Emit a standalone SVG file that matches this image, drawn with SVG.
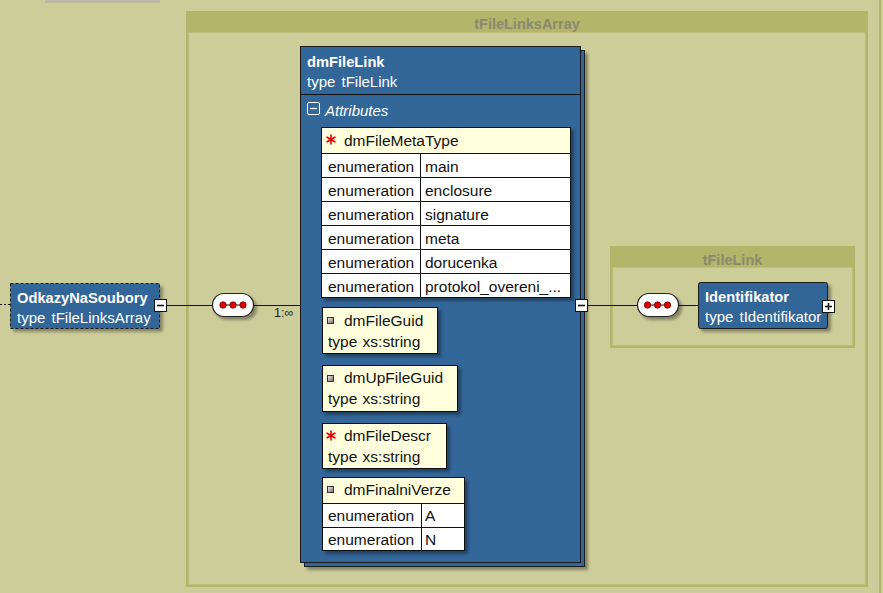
<svg xmlns="http://www.w3.org/2000/svg" width="883" height="593" viewBox="0 0 883 593">
<defs>
<filter id="sh" x="-10%" y="-10%" width="130%" height="130%">
<feDropShadow dx="3" dy="3" stdDeviation="1.5" flood-color="#000" flood-opacity="0.35"/>
</filter>
<linearGradient id="ico" x1="0" y1="0" x2="1" y2="1">
<stop offset="0" stop-color="#f4f4f4"/>
<stop offset="1" stop-color="#6a6a6a"/>
</linearGradient>
<style>
text{font-family:"Liberation Sans",Arial,sans-serif;}
.bg{fill:#CDCD9A;}
.cOuter{fill:#B4B46A;}
.cInner{fill:#CDCD9A;stroke:#BEBE7C;stroke-width:1;}
.cTitle{font-size:14.5px;font-weight:bold;fill:#8A8A6E;text-anchor:middle;}
.el{fill:#336699;stroke:#1a1a1a;stroke-width:1;}
.nm{font-size:14.7px;font-weight:bold;fill:#fff;}
.ty{font-size:15px;fill:#fff;word-spacing:2px;}
.at{fill:#FFFFDD;stroke:#111;stroke-width:1;}
.row{fill:#fff;stroke:#111;stroke-width:1;}
.tx{font-size:15.5px;fill:#111;word-spacing:1px;}
.ln{stroke:#111;stroke-width:1;fill:none;}
.btn{fill:#fff;stroke:#111;stroke-width:1;}
.bl{stroke:#111;stroke-width:1.6;}
.seq{fill:#fff;stroke:#222;stroke-width:1.2;}
.dot{fill:#e00000;stroke:#700;stroke-width:0.8;}
.req{stroke:#e00000;stroke-width:1.6;stroke-linecap:round;}
.opt{fill:url(#ico);stroke:#333;stroke-width:1;}
</style>
</defs>
<rect class="bg" x="0" y="0" width="883" height="593"/>
<rect x="45" y="0" width="115" height="3" fill="#B9B9A2"/>
<rect x="879" y="0" width="2" height="593" fill="#B4B46A"/>

<g id="tFileLinksArray">
<rect class="cOuter" x="186" y="11" width="682" height="576"/>
<rect class="cInner" x="188.5" y="32.5" width="677" height="552"/>
<text class="cTitle" x="527" y="29">tFileLinksArray</text>
</g>

<g id="tFileLink">
<rect class="cOuter" x="610" y="246" width="245" height="102"/>
<rect class="cInner" x="612.5" y="267.5" width="240" height="78"/>
<text class="cTitle" x="732.5" y="264.5">tFileLink</text>
</g>

<g id="connectors">
<line x1="0" y1="304.5" x2="10" y2="304.5" stroke="#111" stroke-width="1" stroke-dasharray="2,2"/>
<line class="ln" x1="167" y1="305.5" x2="212" y2="305.5"/>
<line class="ln" x1="254" y1="305.5" x2="301" y2="305.5"/>
<line class="ln" x1="587" y1="305.5" x2="637" y2="305.5"/>
<line class="ln" x1="678" y1="305.5" x2="698" y2="305.5"/>
</g>

<g id="OdkazyNaSoubory">
<rect class="el" x="10.5" y="283.5" width="149" height="45" stroke-dasharray="3,2" filter="url(#sh)"/>
<text class="nm" x="17" y="303">OdkazyNaSoubory</text>
<text class="ty" x="17" y="323">type tFileLinksArray</text>
<rect class="btn" x="154.5" y="299.5" width="12" height="12"/>
<line class="bl" x1="157" y1="305.5" x2="164" y2="305.5"/>
</g>

<g id="seq1">
<rect class="seq" x="212.5" y="293.5" width="41" height="23" rx="11.5" filter="url(#sh)"/>
<line class="ln" x1="223" y1="305" x2="243" y2="305"/>
<circle class="dot" cx="223" cy="305" r="3.2"/>
<circle class="dot" cx="233" cy="305" r="3.2"/>
<circle class="dot" cx="243" cy="305" r="3.2"/>
</g>
<text x="274" y="317" font-size="12.5" fill="#222" font-family="Liberation Sans, Arial, sans-serif">1:∞</text>

<g id="dmFileLink">
<rect class="el" x="304.5" y="50.5" width="280" height="516" filter="url(#sh)"/>
<rect class="el" x="300.5" y="46.5" width="280" height="516"/>
<text class="nm" x="307" y="67">dmFileLink</text>
<text class="ty" x="307" y="87">type tFileLink</text>
<line class="ln" x1="301" y1="94.5" x2="581" y2="94.5"/>
<rect x="307.5" y="102.5" width="12" height="12" rx="1.5" fill="none" stroke="#fff" stroke-width="1"/>
<line x1="310" y1="108.5" x2="317" y2="108.5" stroke="#fff" stroke-width="1.3"/>
<text x="325" y="115.5" font-size="15" font-style="italic" fill="#fff" font-family="Liberation Sans, Arial, sans-serif">Attributes</text>
<rect class="btn" x="575.5" y="299.5" width="12" height="12"/>
<line class="bl" x1="578" y1="305.5" x2="585" y2="305.5"/>
</g>

<g id="dmFileMetaType">
<rect class="row" x="321.5" y="127.5" width="249" height="170" filter="url(#sh)"/>
<rect class="at" x="321.5" y="127.5" width="249" height="26"/>
<line class="ln" x1="321" y1="177.5" x2="571" y2="177.5"/>
<line class="ln" x1="321" y1="201.5" x2="571" y2="201.5"/>
<line class="ln" x1="321" y1="225.5" x2="571" y2="225.5"/>
<line class="ln" x1="321" y1="249.5" x2="571" y2="249.5"/>
<line class="ln" x1="321" y1="273.5" x2="571" y2="273.5"/>
<line class="ln" x1="420.5" y1="153" x2="420.5" y2="297"/>
<g class="req"><line x1="331" y1="135" x2="331" y2="144"/><line x1="327.1" y1="137.2" x2="334.9" y2="141.8"/><line x1="327.1" y1="141.8" x2="334.9" y2="137.2"/></g>
<text class="tx" x="344" y="146">dmFileMetaType</text>
<text class="tx" x="328" y="172">enumeration</text><text class="tx" x="425" y="172">main</text>
<text class="tx" x="328" y="196">enumeration</text><text class="tx" x="425" y="196">enclosure</text>
<text class="tx" x="328" y="220">enumeration</text><text class="tx" x="425" y="220">signature</text>
<text class="tx" x="328" y="244">enumeration</text><text class="tx" x="425" y="244">meta</text>
<text class="tx" x="328" y="268">enumeration</text><text class="tx" x="425" y="268">dorucenka</text>
<text class="tx" x="328" y="292">enumeration</text><text class="tx" x="425" y="292">protokol_overeni_...</text>
</g>

<g id="dmFileGuid">
<rect class="at" x="322.5" y="307.5" width="115" height="46" filter="url(#sh)"/>
<rect class="opt" x="327.5" y="317.5" width="6" height="6"/>
<text class="tx" x="344" y="326">dmFileGuid</text>
<text class="tx" x="328" y="347">type xs:string</text>
</g>

<g id="dmUpFileGuid">
<rect class="at" x="322.5" y="365.5" width="135" height="46" filter="url(#sh)"/>
<rect class="opt" x="327.5" y="375.5" width="6" height="6"/>
<text class="tx" x="344" y="383">dmUpFileGuid</text>
<text class="tx" x="328" y="404">type xs:string</text>
</g>

<g id="dmFileDescr">
<rect class="at" x="322.5" y="423.5" width="124" height="45" filter="url(#sh)"/>
<g class="req"><line x1="331" y1="431" x2="331" y2="440"/><line x1="327.1" y1="433.2" x2="334.9" y2="437.8"/><line x1="327.1" y1="437.8" x2="334.9" y2="433.2"/></g>
<text class="tx" x="344" y="441">dmFileDescr</text>
<text class="tx" x="328" y="462">type xs:string</text>
</g>

<g id="dmFinalniVerze">
<rect class="row" x="322.5" y="477.5" width="142" height="73" filter="url(#sh)"/>
<rect class="at" x="322.5" y="477.5" width="142" height="26"/>
<line class="ln" x1="322" y1="527.5" x2="465" y2="527.5"/>
<line class="ln" x1="421.5" y1="503" x2="421.5" y2="551"/>
<rect class="opt" x="327.5" y="486.5" width="6" height="6"/>
<text class="tx" x="344" y="495">dmFinalniVerze</text>
<text class="tx" x="328" y="521">enumeration</text><text class="tx" x="425" y="521">A</text>
<text class="tx" x="328" y="545">enumeration</text><text class="tx" x="425" y="545">N</text>
</g>

<g id="seq2">
<rect class="seq" x="637.5" y="293.5" width="41" height="23" rx="11.5" filter="url(#sh)"/>
<line class="ln" x1="647.5" y1="305" x2="667.5" y2="305"/>
<circle class="dot" cx="647.5" cy="305" r="3.2"/>
<circle class="dot" cx="657.5" cy="305" r="3.2"/>
<circle class="dot" cx="667.5" cy="305" r="3.2"/>
</g>

<g id="Identifikator">
<rect class="el" x="698.5" y="282.5" width="129" height="46" rx="2" filter="url(#sh)"/>
<text class="nm" x="705" y="302">Identifikator</text>
<text class="ty" x="705" y="322">type tIdentifikator</text>
<rect class="btn" x="822.5" y="300.5" width="12" height="12"/>
<line class="bl" x1="825" y1="306.5" x2="832" y2="306.5"/>
<line class="bl" x1="828.5" y1="303" x2="828.5" y2="310"/>
</g>
</svg>
